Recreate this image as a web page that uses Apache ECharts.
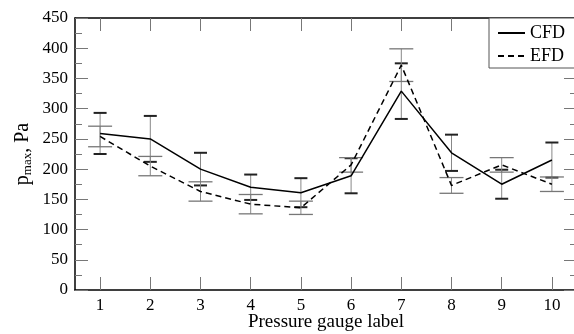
<!DOCTYPE html>
<html>
<head>
<meta charset="utf-8">
<script src="https://cdn.jsdelivr.net/npm/echarts@6/dist/echarts.min.js"></script>
<style>
  html, body { margin: 0; padding: 0; background: #fff; overflow: hidden; width: 574px; height: 334px; }
  #chart { width: 577px; height: 334px; }
</style>
</head>
<body>
<div id="chart"></div>
<script>
const gauges = ['1', '2', '3', '4', '5', '6', '7', '8', '9', '10'];
const cfd = [259, 250, 200, 170, 161, 189, 329, 227, 175, 215];
const cfdErr = [34, 38, 27, 21, 24, 29, 46, 30, 24, 29];
const efd = [254, 205, 163, 142, 136, 207, 372, 173, 207, 175];
const efdErr = [17, 16, 16, 16, 11, 12, 27, 13, 12, 12];

const font = 'Liberation Serif';

// error bar renderer: stem + two caps
function errorBars(capHalf, capColor, capWidth) {
  return function (params, api) {
    const i = api.value(0);
    const top = api.coord([i, api.value(1)]);
    const bot = api.coord([i, api.value(2)]);
    const x = top[0];
    return {
      type: 'group',
      children: [
        { type: 'line', shape: { x1: x, y1: top[1], x2: x, y2: bot[1] },
          style: { stroke: '#888', lineWidth: 1 } },
        { type: 'line', shape: { x1: x - capHalf, y1: top[1], x2: x + capHalf, y2: top[1] },
          style: { stroke: capColor, lineWidth: capWidth } },
        { type: 'line', shape: { x1: x - capHalf, y1: bot[1], x2: x + capHalf, y2: bot[1] },
          style: { stroke: capColor, lineWidth: capWidth } }
      ]
    };
  };
}

const cfdBars = cfd.map((v, i) => [i, v + cfdErr[i], v - cfdErr[i]]);
const efdBars = efd.map((v, i) => [i, v + efdErr[i], v - efdErr[i]]);

function ticks() {
  return { show: true, inside: true, alignWithLabel: true, length: 13, lineStyle: { color: '#777', width: 1 } };
}
function minor() {
  return { show: true, splitNumber: 2, length: 7, lineStyle: { color: '#777', width: 1 } };
}
function line() {
  return { show: true, onZero: false, lineStyle: { color: '#000', width: 1.5 } };
}

const chart = echarts.init(document.getElementById('chart'), null, { renderer: 'canvas' });
chart.setOption({
  animation: false,
  backgroundColor: '#fff',
  textStyle: { fontFamily: font },
  grid: { left: 75, top: 18, right: 0, bottom: 44, outerBoundsMode: 'none', containLabel: false },
  legend: {
    data: ['CFD', 'EFD'],
    orient: 'vertical',
    left: 489, top: 18,
    padding: [6, 12, 3, 8],
    itemGap: 5,
    itemWidth: 27, itemHeight: 14,
    borderColor: '#555', borderWidth: 1,
    backgroundColor: '#fff',
    itemStyle: { color: 'rgba(0,0,0,0)', borderWidth: 0, opacity: 0 },
    textStyle: { fontFamily: font, fontSize: 18, color: '#000' }
  },
  xAxis: [
    {
      type: 'category', data: gauges, boundaryGap: true,
      axisLine: line(),
      axisTick: ticks(),
      axisLabel: { color: '#000', fontSize: 17, fontFamily: font, margin: 7 },
      name: 'Pressure gauge label', nameLocation: 'middle', nameGap: 23, nameMoveOverlap: false,
      nameTextStyle: { color: '#000', fontSize: 19, fontFamily: font },
      splitLine: { show: false }
    },
    {
      type: 'category', data: gauges, boundaryGap: true, position: 'top',
      axisLine: line(),
      axisTick: ticks(),
      axisLabel: { show: true, color: 'rgba(0,0,0,0)', fontSize: 2 },
      splitLine: { show: false }
    }
  ],
  yAxis: [
    {
      type: 'value', min: 0, max: 450, interval: 50, position: 'left',
      axisLine: line(),
      axisTick: ticks(),
      minorTick: minor(),
      axisLabel: { color: '#000', fontSize: 17, fontFamily: font, margin: 7 },
      splitLine: { show: false },
      name: '{p|p}{s|max}{p|, Pa}', nameLocation: 'middle', nameGap: 40, nameRotate: 90,
      nameMoveOverlap: false,
      nameTextStyle: {
        rich: {
          p: { fontSize: 20, fontFamily: font, color: '#000', lineHeight: 24 },
          s: { fontSize: 13, fontFamily: font, color: '#000', lineHeight: 24, padding: [10, 0, 0, 0] }
        }
      }
    },
    {
      type: 'value', min: 0, max: 450, interval: 50, position: 'right',
      axisLine: line(),
      axisTick: ticks(),
      minorTick: minor(),
      axisLabel: { show: false },
      splitLine: { show: false }
    }
  ],
  series: [
    {
      type: 'custom', name: 'cfdErr', renderItem: errorBars(6.5, '#222', 2),
      data: cfdBars, encode: { x: 0, y: [1, 2] }, z: 2, silent: true
    },
    {
      type: 'custom', name: 'efdErr', renderItem: errorBars(12, '#777', 1.3),
      data: efdBars, encode: { x: 0, y: [1, 2] }, z: 2, silent: true
    },
    {
      type: 'line', name: 'CFD', data: cfd, symbol: 'none',
      lineStyle: { color: '#000', width: 1.5, type: 'solid' },
      itemStyle: { color: '#000' }, z: 3
    },
    {
      type: 'line', name: 'EFD', data: efd, symbol: 'none',
      lineStyle: { color: '#000', width: 1.5, type: [6, 4] },
      itemStyle: { color: '#000' }, z: 3
    }
  ]
});
</script>
</body>
</html>
